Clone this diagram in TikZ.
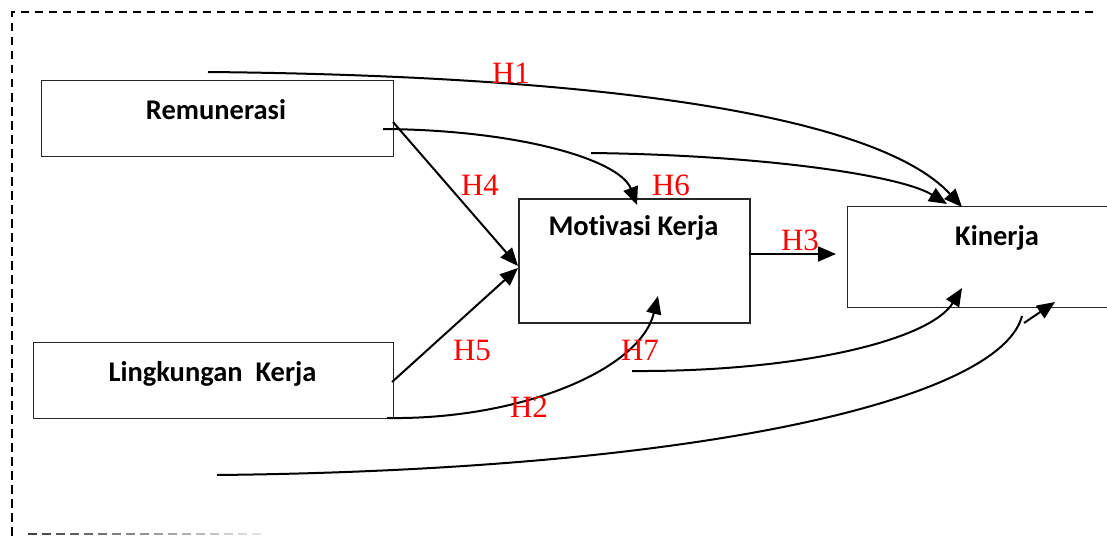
\documentclass[tikz,border=0pt]{standalone}
\usepackage{fontspec}
\setmainfont{Carlito}[Ligatures={NoCommon}]
\newfontfamily\hfont{Liberation Serif}
\usetikzlibrary{arrows.meta}
\definecolor{hred}{RGB}{255,0,0}
\tikzset{
  box/.style={draw=black!85, line width=1.3pt, inner sep=0pt, anchor=north west},
  boxthick/.style={box, line width=2pt},
  lbl/.style={anchor=base, inner sep=0pt, font=\fontsize{28.5}{34}\selectfont\bfseries},
  hlab/.style={anchor=base, inner sep=0pt, text=hred, font=\hfont\fontsize{31}{34}\selectfont},
  conn/.style={line width=2pt, -{Triangle[length=18pt,width=15pt]}},
  plain/.style={line width=2pt},
  frame/.style={line width=1.8pt, dash pattern=on 8.5pt off 5.5pt}
}
\begin{document}
\begin{tikzpicture}[x=1pt,y=-1pt]
\useasboundingbox (0,0) rectangle (1107,535);
\clip (0,0) rectangle (1107,535);
% dashed frame
\coordinate (ftl) at (12,12);
\coordinate (ftr) at (1093,12);
\coordinate (fbl) at (12,536);
\draw[frame] (ftr) -- (ftl) -- (fbl);
\foreach \i in {0,...,16}{
  \pgfmathsetmacro{\shade}{75-4*\i}
  \draw[line width=1.8pt, draw=black!\shade] (28+14*\i,534) -- (37+14*\i,534);
}
% boxes
\node[box, minimum width=352pt, minimum height=76.5pt] (rem) at (40.5,79.5) {};
\node[box, minimum width=360pt, minimum height=76pt] (lk) at (32.7,341.7) {};
\node[boxthick, minimum width=231pt, minimum height=124pt] (mot) at (518,198) {};
\node[box, minimum width=280pt, minimum height=101pt] (kin) at (847,206) {};
% box texts
\node[lbl] (remt) at (216,119) {Remunerasi};
\node[lbl] (lkt) at (212.5,381) {Lingkungan\ \ Kerja};
\node[lbl] (mott) at (633.5,235) {Motivasi Kerja};
\node[lbl] (kint) at (997,245) {Kinerja};
% connector end points
\coordinate (h1s) at (208,72);
\coordinate (h1e) at (962,207);
\coordinate (h6s) at (383,129);
\coordinate (h6e) at (637,205);
\coordinate (m2s) at (591,153);
\coordinate (m2e) at (947,204);
\coordinate (h4s) at (393,122);
\coordinate (h4e) at (518,266);
\coordinate (h5s) at (392,382);
\coordinate (h5e) at (518,268);
\coordinate (h3s) at (749,254);
\coordinate (h3e) at (836,254);
\coordinate (h2s) at (387,418);
\coordinate (h2e) at (658,296);
\coordinate (h7s) at (632,371);
\coordinate (h7e) at (962,288);
\coordinate (lgs) at (217,475);
\coordinate (lge) at (1022,316);
\coordinate (sas) at (1024,323);
\coordinate (sae) at (1055,302);
% connectors
\draw[conn] (h1s) .. controls (620,76) and (880,118) .. (h1e);
\draw[conn] (h6s) .. controls (520,130) and (620,160) .. (h6e);
\draw[conn] (m2s) .. controls (760,155) and (900,175) .. (m2e);
\draw[conn] (h4s) -- (h4e);
\draw[conn] (h5s) -- (h5e);
\draw[conn] (h3s) -- (h3e);
\draw[conn] (h2s) .. controls (520,420) and (640,370) .. (h2e);
\draw[conn] (h7s) .. controls (800,372) and (930,340) .. (h7e);
\draw[plain] (lgs) .. controls (700,470) and (1000,400) .. (lge);
\draw[conn] (sas) -- (sae);
% hypothesis labels
\node[hlab] (H1) at (511,83) {H1};
\node[hlab] (H4) at (480,195) {H4};
\node[hlab] (H6) at (671,195) {H6};
\node[hlab] (H3) at (800,250) {H3};
\node[hlab] (H5) at (472,360) {H5};
\node[hlab] (H7) at (640,360) {H7};
\node[hlab] (H2) at (529,417) {H2};
\end{tikzpicture}
\end{document}
